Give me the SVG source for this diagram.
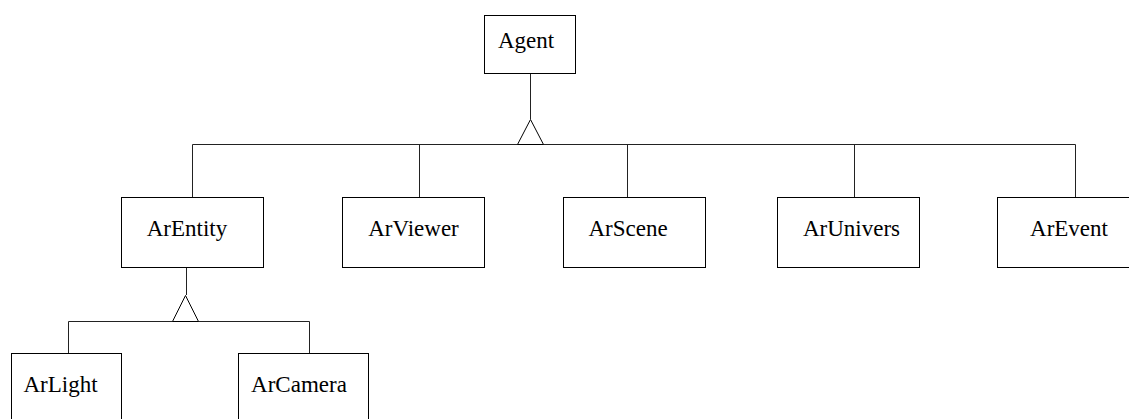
<svg xmlns="http://www.w3.org/2000/svg" width="1129" height="419" viewBox="0 0 1129 419">
<style>
.box{fill:#fff;stroke:#000;stroke-width:1}
.lbl{font-family:"Liberation Serif","Times New Roman",serif;font-size:23px;fill:#000;text-anchor:middle}
.ln{fill:none;stroke:#222;stroke-width:1}
.tri{fill:#fff;stroke:#000;stroke-width:1}
</style>
<rect width="1129" height="419" fill="#fff"/>
<g id="connectors">
<path class="ln" d="M530.5 73 V119 M192.5 197 V144.5 H1075.5 V197 M419.5 144.5 V197 M627.5 144.5 V197 M854.5 144.5 V197"/>
<polygon class="tri" points="530.5,119.5 517.5,144.5 543.5,144.5"/>
<path class="ln" d="M186.5 268 V295 M68.5 353 V321.5 H309.5 V353"/>
<polygon class="tri" points="185.5,295.5 172.5,321.5 198.5,321.5"/>
</g>
<g id="Agent"><rect class="box" x="484.5" y="15.5" width="91" height="58"/><text class="lbl" x="526" y="48">Agent</text></g>
<g id="ArEntity"><rect class="box" x="121.5" y="197.5" width="142" height="70"/><text class="lbl" x="187" y="236">ArEntity</text></g>
<g id="ArViewer"><rect class="box" x="342.5" y="197.5" width="142" height="70"/><text class="lbl" x="413.5" y="236">ArViewer</text></g>
<g id="ArScene"><rect class="box" x="563.5" y="197.5" width="142" height="70"/><text class="lbl" x="628" y="236">ArScene</text></g>
<g id="ArUnivers"><rect class="box" x="777.5" y="197.5" width="142" height="70"/><text class="lbl" x="851.5" y="236">ArUnivers</text></g>
<g id="ArEvent"><rect class="box" x="997.5" y="197.5" width="142" height="70"/><text class="lbl" x="1069" y="236">ArEvent</text></g>
<g id="ArLight"><rect class="box" x="11.5" y="353.5" width="110" height="80"/><text class="lbl" x="60.5" y="392">ArLight</text></g>
<g id="ArCamera"><rect class="box" x="238.5" y="353.5" width="130" height="80"/><text class="lbl" x="299" y="392">ArCamera</text></g>
</svg>
